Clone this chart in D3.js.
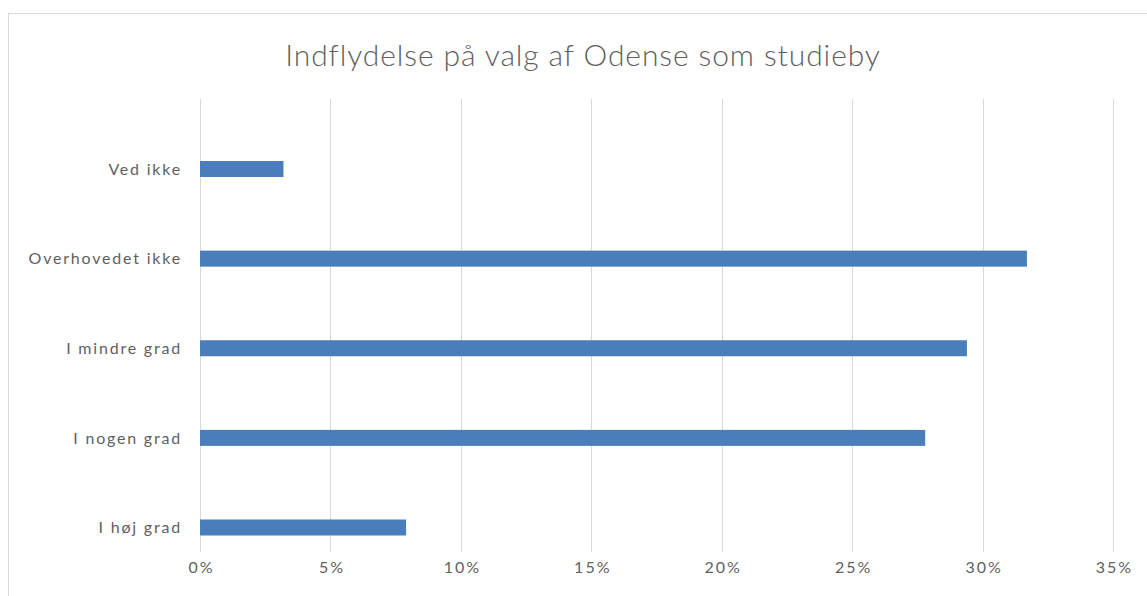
<!DOCTYPE html>
<html>
<head>
<meta charset="utf-8">
<script src="https://cdn.jsdelivr.net/npm/d3@7"></script>
<style>
  body { margin: 0; background: #fff; }
  text { font-family: Lato, "Open Sans", sans-serif; fill: #5f5f5f; }
</style>
</head>
<body>
<svg width="1147" height="596"></svg>
<script>
var title = 'Indflydelse på valg af Odense som studieby';
var categories = ['Ved ikke', 'Overhovedet ikke', 'I mindre grad', 'I nogen grad', 'I høj grad'];
var values = [0.032, 0.317, 0.294, 0.278, 0.079];
var xTicks = [0, 0.05, 0.10, 0.15, 0.20, 0.25, 0.30, 0.35];

var svg = d3.select('svg');

// chart frame
svg.append('rect')
    .attr('x', 8.5).attr('y', 13.5)
    .attr('width', 1160).attr('height', 620)
    .attr('fill', '#fff')
    .attr('stroke', '#d9d9d9');

var x = d3.scaleLinear().domain([0, 0.35]).range([200, 1113]);
var y = d3.scalePoint().domain(categories).range([169, 527.5]);

// gridlines
svg.append('g').selectAll('line')
    .data(xTicks)
    .join('line')
    .attr('x1', function (d) { return Math.round(x(d)) + 0.5; })
    .attr('x2', function (d) { return Math.round(x(d)) + 0.5; })
    .attr('y1', 99).attr('y2', 552)
    .attr('stroke', '#d9d9d9');

// bars
svg.append('g').selectAll('rect')
    .data(values)
    .join('rect')
    .attr('x', x(0))
    .attr('y', function (d, i) { return y(categories[i]) - 8; })
    .attr('width', function (d) { return x(d) - x(0); })
    .attr('height', 16)
    .attr('fill', '#4a7ebb');

// x axis labels
var xAxis = d3.axisBottom(x).tickValues(xTicks).tickSize(0).tickPadding(0)
    .tickFormat(d3.format('.0%'));
var gx = svg.append('g').attr('transform', 'translate(0,573)').call(xAxis);
gx.select('.domain').remove();
gx.selectAll('text')
    .attr('dy', 0).attr('y', 0).attr('x', 1)
    .style('font-size', '16px')
    .style('letter-spacing', '2px')
    .attr('fill', '#5f5f5f');

// y axis labels
var yAxis = d3.axisLeft(y).tickSize(0).tickPadding(0);
var gy = svg.append('g').attr('transform', 'translate(182,0)').call(yAxis);
gy.select('.domain').remove();
gy.selectAll('text')
    .style('font-size', '16px')
    .style('letter-spacing', '1.8px')
    .attr('fill', '#5f5f5f');

// title
svg.append('text')
    .attr('x', 583).attr('y', 66)
    .attr('text-anchor', 'middle')
    .style('font-size', '30px')
    .style('font-weight', 300)
    .style('letter-spacing', '0.9px')
    .text(title);
</script>
</body>
</html>
